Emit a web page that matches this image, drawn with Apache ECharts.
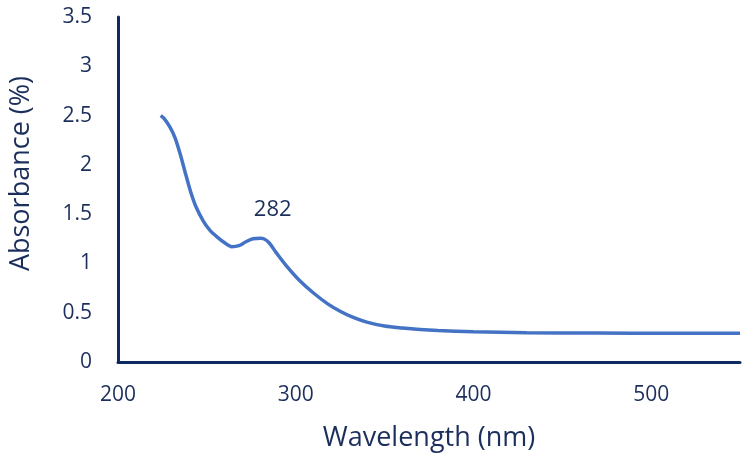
<!DOCTYPE html>
<html>
<head>
<meta charset="utf-8">
<script src="https://cdn.jsdelivr.net/npm/echarts@6/dist/echarts.min.js"></script>
<style>
html,body{margin:0;padding:0;background:#fff;}
#chart{width:751px;height:462px;}
</style>
</head>
<body>
<div id="chart"></div>
<script>
const wavelength = [224, 226, 229, 232, 235, 238, 241, 244, 248, 252, 256, 260, 264, 268, 272, 276, 280, 282, 285, 289, 295, 302, 310, 318, 325, 332, 340, 350, 360, 370, 380, 400, 430, 470, 510, 550];
const absorbance = [2.50, 2.47, 2.39, 2.28, 2.11, 1.91, 1.72, 1.57, 1.43, 1.33, 1.265, 1.21, 1.17, 1.18, 1.22, 1.25, 1.255, 1.25, 1.21, 1.11, 0.97, 0.83, 0.70, 0.59, 0.515, 0.455, 0.405, 0.365, 0.345, 0.33, 0.32, 0.307, 0.297, 0.293, 0.292, 0.292];
const peakLabel = { wavelength: 282, absorbance: 1.255, text: '282' };
const xTicks = [200, 300, 400, 500];
const yTicks = [0, 0.5, 1, 1.5, 2, 2.5, 3, 3.5];

const textColor = '#1c2f5c';
const axisColor = '#0f2a63';
const font = 'Open Sans';

const chart = echarts.init(document.getElementById('chart'));
chart.setOption({
  animation: false,
  grid: { left: 118, top: 17, right: 11, bottom: 100 },
  xAxis: {
    type: 'value', min: 200, max: 550, interval: 100,
    name: 'Wavelength (nm)', nameLocation: 'middle', nameGap: 63,
    nameTextStyle: { color: textColor, fontSize: 27, fontFamily: font },
    axisLine: { show: true, lineStyle: { color: axisColor, width: 3 } },
    axisTick: { show: false },
    splitLine: { show: false },
    axisLabel: {
      color: textColor, fontSize: 21, fontFamily: font, margin: 23,
      formatter: v => xTicks.includes(v) ? String(v) : ''
    }
  },
  yAxis: {
    type: 'value', min: 0, max: 3.5, interval: 0.5,
    name: 'Absorbance (%)', nameLocation: 'middle', nameGap: 83,
    nameTextStyle: { color: textColor, fontSize: 27, fontFamily: font, padding: [0, 0, 0, 32] },
    axisLine: { show: true, lineStyle: { color: axisColor, width: 3 } },
    axisTick: { show: false },
    splitLine: { show: false },
    axisLabel: {
      color: textColor, fontSize: 21, fontFamily: font, margin: 26,
      formatter: v => yTicks.includes(v) ? String(v) : ''
    }
  },
  series: [{
    type: 'line',
    data: wavelength.map((w, i) => [w, absorbance[i]]),
    smooth: 0.3,
    showSymbol: false,
    lineStyle: { color: '#4472c4', width: 3.5 },
    itemStyle: { color: '#4472c4' },
    markPoint: {
      symbol: 'circle', symbolSize: 0,
      data: [{ coord: [peakLabel.wavelength, peakLabel.absorbance], value: peakLabel.text }],
      label: {
        show: true, position: 'top', formatter: peakLabel.text,
        color: textColor, fontSize: 22, fontFamily: font, offset: [9, -13]
      }
    }
  }]
});
</script>
</body>
</html>
